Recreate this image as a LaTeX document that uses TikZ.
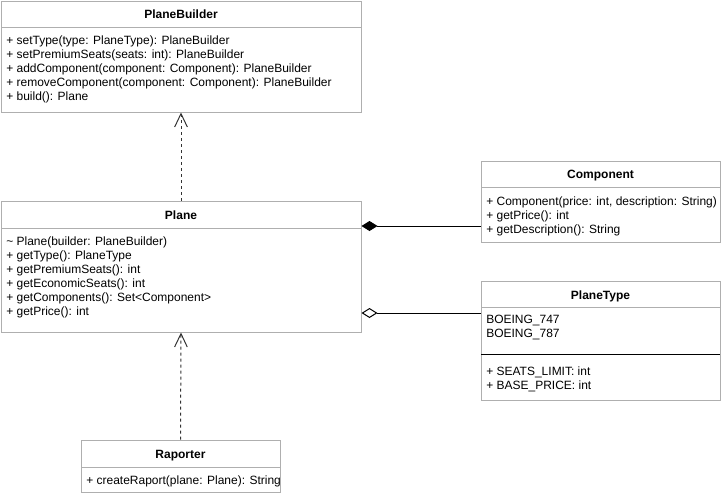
\documentclass[tikz,border=0pt]{standalone}
\usepackage{fontspec}
\setmainfont{Liberation Sans}
\usetikzlibrary{arrows.meta,fit}
\definecolor{bordergray}{RGB}{175,175,175}
\begin{document}
\begin{tikzpicture}[x=0.75pt,y=-0.75pt,
  box/.style={draw=bordergray, line width=0.75pt, inner sep=0pt},
  sepline/.style={draw=bordergray, line width=0.75pt},
  blacksep/.style={draw=black, line width=0.75pt},
  title/.style={anchor=base, font=\fontsize{9}{10}\selectfont\bfseries, inner sep=0pt},
  member/.style={anchor=base west, font=\fontsize{9}{10}\selectfont, inner sep=0pt},
  dep/.style={draw=black!80, line width=0.75pt, dash pattern=on 2.25pt off 2.25pt, -{Straight Barb[length=10pt,width=9.5pt]}},
  compo/.style={draw=black, line width=0.75pt, {Diamond[length=12pt,width=7.5pt]}-},
  aggr/.style={draw=black, line width=0.75pt, {Diamond[open,fill=white,length=12pt,width=7.5pt]}-}
]
\useasboundingbox (0,0) rectangle (722,496);

% PlaneBuilder
\node[box, fit={(1,1) (361,112)}] (builder) {};
\draw[sepline] (1,27) -- (361,27);
\node[title] (builderT) at (181,18) {PlaneBuilder};
\node[member] (b1) at (6,44) {+ setType(type: PlaneType): PlaneBuilder};
\node[member] (b2) at (6,58) {+ setPremiumSeats(seats: int): PlaneBuilder};
\node[member] (b3) at (6,72) {+ addComponent(component: Component): PlaneBuilder};
\node[member] (b4) at (6,86) {+ removeComponent(component: Component): PlaneBuilder};
\node[member] (b5) at (6,100) {+ build(): Plane};

% Plane
\node[box, fit={(1,201) (361,332)}] (plane) {};
\draw[sepline] (1,228) -- (361,228);
\node[title] (planeT) at (181,219) {Plane};
\node[member] (p1) at (6,245) {\textasciitilde{} Plane(builder: PlaneBuilder)};
\node[member] (p2) at (6,259) {+ getType(): PlaneType};
\node[member] (p3) at (6,273) {+ getPremiumSeats(): int};
\node[member] (p4) at (6,287) {+ getEconomicSeats(): int};
\node[member] (p5) at (6,301) {+ getComponents(): Set<Component>};
\node[member] (p6) at (6,315) {+ getPrice(): int};

% Component
\node[box, fit={(481,161) (720,242)}] (comp) {};
\draw[sepline] (481,187) -- (720,187);
\node[title] (compT) at (600.5,178) {Component};
\node[member] (c1) at (486,205) {+ Component(price: int, description: String)};
\node[member] (c2) at (486,219) {+ getPrice(): int};
\node[member] (c3) at (486,233) {+ getDescription(): String};

% PlaneType
\node[box, fit={(481,281) (720,400)}] (ptype) {};
\draw[sepline] (481,307) -- (720,307);
\draw[blacksep] (481,354) -- (720,354);
\node[title] (ptypeT) at (600.5,299) {PlaneType};
\node[member] (t1) at (486,323) {BOEING\_747};
\node[member] (t2) at (486,337) {BOEING\_787};
\node[member] (t3) at (486,375) {+ SEATS\_LIMIT: int};
\node[member] (t4) at (486,389) {+ BASE\_PRICE: int};

% Raporter
\node[box, fit={(81,440) (280,492)}] (rap) {};
\draw[sepline] (81,467) -- (280,467);
\node[title] (rapT) at (180.5,458) {Raporter};
\begin{scope}
  \clip (81,467) rectangle (279,492);
  \node[member] (r1) at (86,484) {+ createRaport(plane: Plane): String};
\end{scope}

% connectors
\coordinate (ycomp) at (0,226);
\coordinate (yagg) at (0,313);
\draw[dep] (plane.north) -- (builder.south);
\draw[dep] (rap.north) -- (plane.south);
\draw[compo] (plane.east |- ycomp) -- (comp.west |- ycomp);
\draw[aggr] (plane.east |- yagg) -- (ptype.west |- yagg);
\end{tikzpicture}
\end{document}
